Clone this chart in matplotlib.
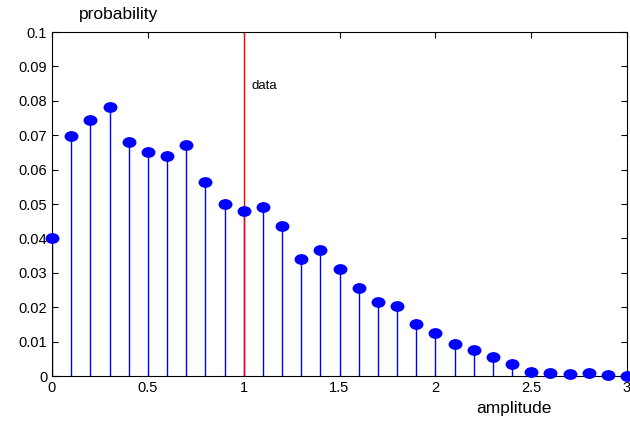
import numpy as np
import matplotlib.pyplot as plt
from matplotlib.path import Path
from matplotlib.transforms import Affine2D

plt.rcParams['font.family'] = ['Liberation Sans', 'DejaVu Sans']

# amplitude bins and measured probability
amplitude = np.round(np.arange(0, 3.01, 0.1), 1)
probability = [0.0401, 0.0698, 0.0744, 0.0782, 0.0680, 0.0651, 0.0640, 0.0672,
               0.0564, 0.0500, 0.0480, 0.0491, 0.0436, 0.0340, 0.0366, 0.0310,
               0.0255, 0.0216, 0.0204, 0.0152, 0.0125, 0.0093, 0.0075, 0.0055,
               0.0034, 0.0013, 0.0008, 0.0005, 0.0008, 0.0002, 0.0000]
data_pos = 1.0

# markers are slightly wider than tall in the original
oval = Path.unit_circle().transformed(Affine2D().scale(1, 0.75))

fig = plt.figure(figsize=(6.3, 4.21), dpi=100)
ax = fig.add_axes([52/630, 1-376/421, 575/630, 344/421])

markerline, stemlines, baseline = ax.stem(amplitude, probability, basefmt=' ')
plt.setp(stemlines, color='blue', linewidth=1)
plt.setp(markerline, color='blue', marker=oval, markersize=9, clip_on=False, zorder=3)

ax.axvline(data_pos, color='red', linewidth=1)
ax.text(data_pos + 0.04, 0.0843, 'data', fontsize=9.5, va='center')

ax.set_xlim(0, 3)
ax.set_ylim(0, 0.1)
ax.set_xticks([0, 0.5, 1, 1.5, 2, 2.5, 3])
ax.set_xticklabels(['0', '0.5', '1', '1.5', '2', '2.5', '3'])
ax.set_yticks(np.round(np.arange(0, 0.101, 0.01), 2))
ax.set_yticklabels(['0', '0.01', '0.02', '0.03', '0.04', '0.05', '0.06',
                    '0.07', '0.08', '0.09', '0.1'])
ax.tick_params(direction='in', top=True, right=True, labelsize=10.5, length=4)

fig.text(79/630, 1-15/421, 'probability', fontsize=12.5, va='center')
fig.text(476/630, 1-408/421, 'amplitude', fontsize=12.5, va='center')

fig.savefig('out.png', dpi=100)
